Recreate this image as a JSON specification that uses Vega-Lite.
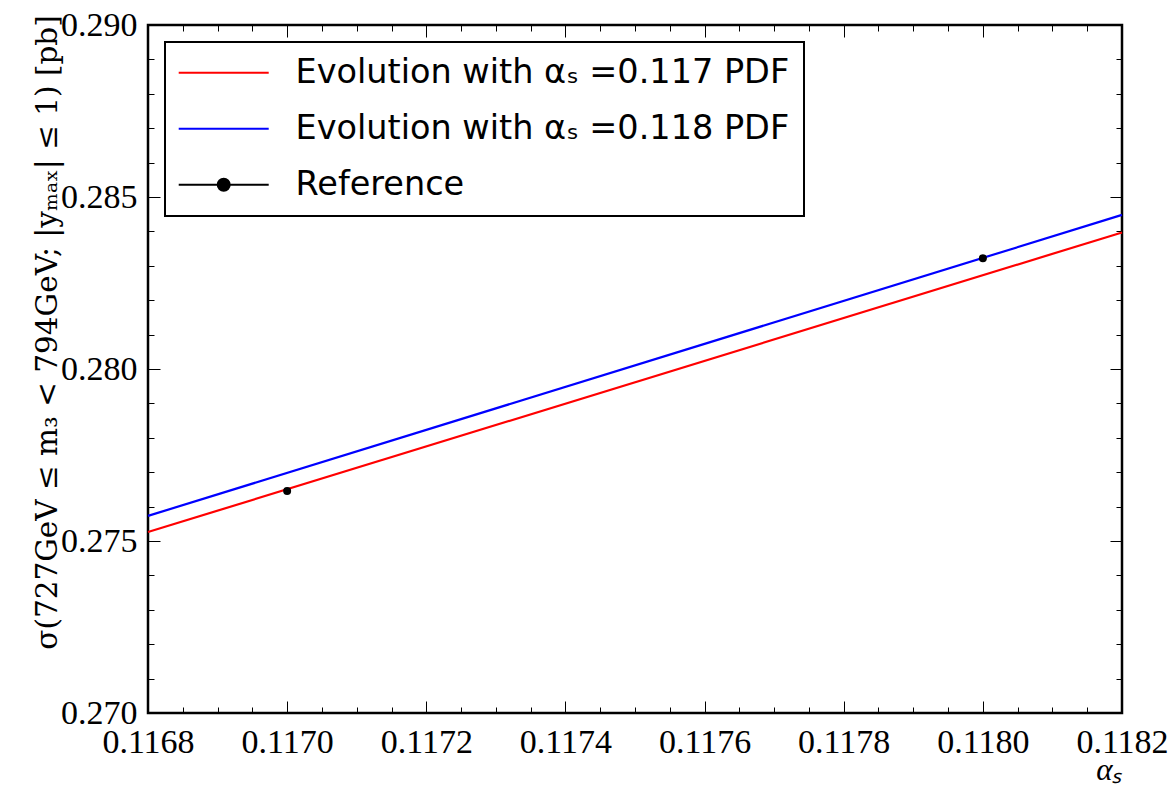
{
  "$schema": "https://vega.github.io/schema/vega-lite/v6.json",
  "width": 974,
  "height": 688,
  "autosize": "none",
  "padding": {"left": 148, "top": 25, "right": 53, "bottom": 75},
  "background": "white",
  "config": {
    "view": {"stroke": "black", "strokeWidth": 2.5},
    "axis": {"domain": false, "grid": false, "tickColor": "black", "tickWidth": 1, "labelColor": "black", "titleColor": "black", "labelFlush": false, "labelOverlap": false, "titleFontWeight": "normal"}
  },
  "datasets": {
    "curves": [
      {"series": "Evolution with αₛ =0.117 PDF", "alpha": 0.1168, "sigma": 0.27526},
      {"series": "Evolution with αₛ =0.117 PDF", "alpha": 0.1182, "sigma": 0.28397},
      {"series": "Evolution with αₛ =0.118 PDF", "alpha": 0.1168, "sigma": 0.27573},
      {"series": "Evolution with αₛ =0.118 PDF", "alpha": 0.1182, "sigma": 0.28448},
      {"series": "Reference", "alpha": 0.117, "sigma": 0.27645},
      {"series": "Reference", "alpha": 0.118, "sigma": 0.28322}
    ]
  },
  "data": {"name": "curves"},
  "layer": [
    {
      "transform": [{"filter": "datum.series !== 'Reference'"}],
      "mark": {"type": "line", "strokeWidth": 2.2},
      "encoding": {
        "x": {
          "field": "alpha", "type": "quantitative",
          "scale": {"domain": [0.1168, 0.1182], "nice": false, "zero": false},
          "axis": {
            "orient": "bottom",
            "values": [0.1168, 0.11685, 0.1169, 0.11695, 0.117, 0.11705, 0.1171, 0.11715, 0.1172, 0.11725, 0.1173, 0.11735, 0.1174, 0.11745, 0.1175, 0.11755, 0.1176, 0.11765, 0.1177, 0.11775, 0.1178, 0.11785, 0.1179, 0.11795, 0.118, 0.11805, 0.1181, 0.11815, 0.1182],
            "format": ".4f",
            "labelExpr": "abs(datum.value*5000 - round(datum.value*5000)) < 0.01 ? datum.label : ''",
            "tickSize": {"condition": {"test": "abs(datum.value*5000 - round(datum.value*5000)) < 0.01", "value": -12}, "value": -6},
            "labelFont": "Liberation Serif", "labelFontSize": 34, "labelPadding": 24,
            "title": "αₛ", "titleFont": "Liberation Serif", "titleFontSize": 31, "titleFontStyle": "italic",
            "titleAnchor": "end", "titleAlign": "right", "titleBaseline": "alphabetic", "titleX": 974, "titleY": 66
          }
        },
        "y": {
          "field": "sigma", "type": "quantitative",
          "scale": {"domain": [0.27, 0.29], "nice": false, "zero": false},
          "axis": {
            "orient": "left",
            "values": [0.27, 0.271, 0.272, 0.273, 0.274, 0.275, 0.276, 0.277, 0.278, 0.279, 0.28, 0.281, 0.282, 0.283, 0.284, 0.285, 0.286, 0.287, 0.288, 0.289, 0.29],
            "format": ".3f",
            "labelExpr": "abs(datum.value*200 - round(datum.value*200)) < 0.01 ? datum.label : ''",
            "tickSize": {"condition": {"test": "abs(datum.value*200 - round(datum.value*200)) < 0.01", "value": -12}, "value": -6},
            "labelFont": "Liberation Serif", "labelFontSize": 34, "labelPadding": 23,
            "title": "σ(727GeV ≤ m₃ < 794GeV; |yₘₐₓ| ≤ 1) [pb]", "titleFont": "DejaVu Serif", "titleFontSize": 29.5,
            "titleAngle": 270, "titleAlign": "center", "titleBaseline": "alphabetic", "titleX": -92, "titleY": 307
          }
        },
        "stroke": {
          "field": "series", "type": "nominal",
          "scale": {"domain": ["Evolution with αₛ =0.117 PDF", "Evolution with αₛ =0.118 PDF"], "range": ["#ff0000", "#0000ff"]},
          "legend": null
        }
      }
    },
    {
      "transform": [{"filter": "datum.series === 'Reference'"}],
      "mark": {"type": "circle", "size": 64, "color": "black", "opacity": 1},
      "encoding": {
        "x": {
          "field": "alpha", "type": "quantitative",
          "axis": {
            "orient": "top",
            "values": [0.1168, 0.11685, 0.1169, 0.11695, 0.117, 0.11705, 0.1171, 0.11715, 0.1172, 0.11725, 0.1173, 0.11735, 0.1174, 0.11745, 0.1175, 0.11755, 0.1176, 0.11765, 0.1177, 0.11775, 0.1178, 0.11785, 0.1179, 0.11795, 0.118, 0.11805, 0.1181, 0.11815, 0.1182],
            "labels": false, "title": null,
            "tickSize": {"condition": {"test": "abs(datum.value*5000 - round(datum.value*5000)) < 0.01", "value": -12}, "value": -6}
          }
        },
        "y": {
          "field": "sigma", "type": "quantitative",
          "axis": {
            "orient": "right",
            "values": [0.27, 0.271, 0.272, 0.273, 0.274, 0.275, 0.276, 0.277, 0.278, 0.279, 0.28, 0.281, 0.282, 0.283, 0.284, 0.285, 0.286, 0.287, 0.288, 0.289, 0.29],
            "labels": false, "title": null,
            "tickSize": {"condition": {"test": "abs(datum.value*200 - round(datum.value*200)) < 0.01", "value": -12}, "value": -6}
          }
        }
      }
    },
    {
      "mark": {"type": "point", "filled": true, "opacity": 0},
      "encoding": {
        "x": {"field": "alpha", "type": "quantitative", "axis": null},
        "y": {"field": "sigma", "type": "quantitative", "axis": null},
        "color": {
          "field": "series", "type": "nominal",
          "scale": {"domain": ["Evolution with αₛ =0.117 PDF", "Evolution with αₛ =0.118 PDF", "Reference"], "range": ["#ff0000", "#0000ff", "#000000"]},
          "legend": {
            "orient": "top-left", "offset": 17, "padding": 14, "title": null,
            "strokeColor": "black", "fillColor": "white",
            "labelFont": "DejaVu Sans", "labelFontSize": 33.5, "labelColor": "black", "labelLimit": 900,
            "labelOffset": 83, "rowPadding": 21, "symbolSize": 576, "symbolOpacity": 1, "symbolStrokeWidth": 2,
            "encode": {
              "legend": {"update": {"strokeWidth": {"value": 2}}},
              "symbols": {"update": {"stroke": {"scale": "color", "field": "value"}, "strokeWidth": {"value": 2}, "opacity": {"value": 1}}}
            }
          }
        },
        "shape": {
          "field": "series", "type": "nominal",
          "scale": {"domain": ["Evolution with αₛ =0.117 PDF", "Evolution with αₛ =0.118 PDF", "Reference"], "range": ["M-1.42,0H6.08", "M-1.42,0H6.08", "M-1.42,0H6.08M2.83,0A0.5,0.5 0 1 1 1.83,0A0.5,0.5 0 1 1 2.83,0Z"]},
          "legend": {
            "orient": "top-left", "offset": 17, "padding": 14, "title": null,
            "strokeColor": "black", "fillColor": "white",
            "labelFont": "DejaVu Sans", "labelFontSize": 33.5, "labelColor": "black", "labelLimit": 900,
            "labelOffset": 83, "rowPadding": 21, "symbolSize": 576, "symbolOpacity": 1, "symbolStrokeWidth": 2,
            "encode": {
              "legend": {"update": {"strokeWidth": {"value": 2}}},
              "symbols": {"update": {"stroke": {"scale": "color", "field": "value"}, "strokeWidth": {"value": 2}, "opacity": {"value": 1}}}
            }
          }
        }
      }
    }
  ],
  "resolve": {"axis": {"x": "independent", "y": "independent"}}
}
